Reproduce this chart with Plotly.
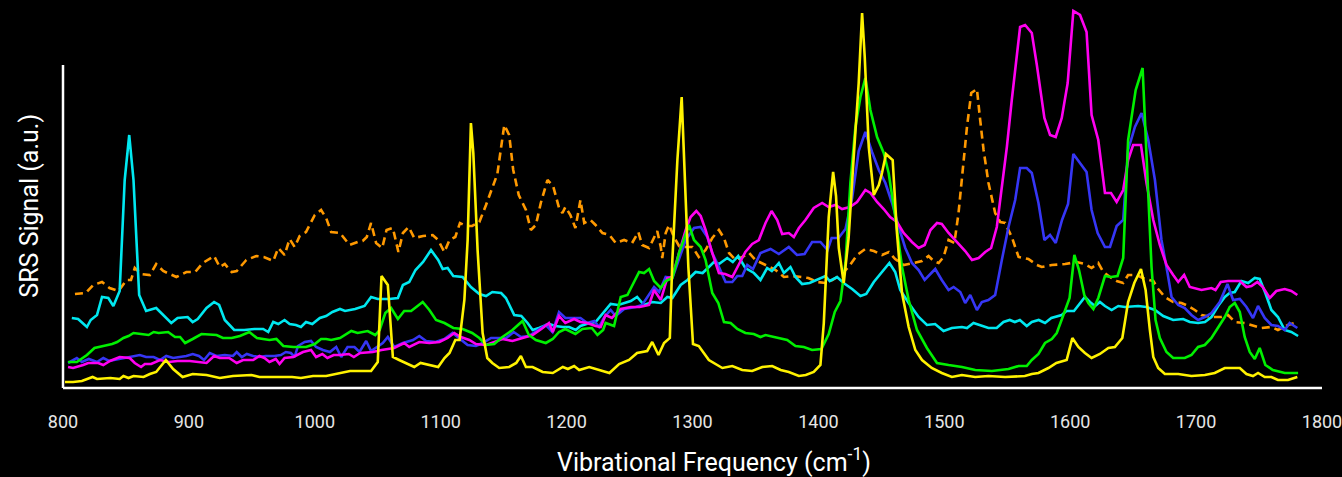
import plotly.graph_objects as go

# ---------------- data (wavenumber in cm^-1, SRS signal in a.u.) ----------------
orange_x = [809.5, 818, 824, 831, 837, 844, 850.5, 854, 857, 862, 869, 874, 879.6, 890, 898, 905, 911, 920, 924.5, 928.5,
            934, 938, 945.6, 953.6, 959.5, 967, 971, 976, 980, 984, 988, 993, 1000, 1005, 1009, 1013, 1020, 1027.6, 1034, 1038,
            1041.3, 1044.7, 1048.7, 1053.5, 1057, 1062, 1066.4, 1070, 1074.6, 1079, 1086, 1093.6, 1098, 1102.9, 1107, 1111.6,
            1115.3, 1120, 1125, 1130.7, 1136, 1141, 1145, 1150.5, 1154.4, 1157.6, 1162, 1167.7, 1171.6, 1175.6, 1179.5, 1184.8,
            1189.3, 1194, 1196.7, 1199, 1203, 1207, 1211, 1214, 1219, 1223, 1228.5, 1234, 1239, 1245.7, 1252, 1257, 1260, 1265.5,
            1269.5, 1272, 1274.8, 1276, 1278.7, 1281.4, 1285.3, 1289.3, 1294.6, 1300, 1305, 1310.4, 1315.7, 1321, 1325, 1329,
            1334.2, 1339.5, 1345, 1350, 1358, 1366, 1372.6, 1379, 1387, 1392, 1399, 1405.6, 1411, 1417.5, 1424, 1430.7, 1437.3,
            1444, 1450.5, 1456, 1461, 1467.7, 1475.6, 1482.3, 1487.5, 1491.5, 1495.5, 1499.4, 1503.4, 1508, 1511.3, 1515.3,
            1518, 1521.4, 1525.9, 1528.5, 1531.2, 1535.1, 1540.4, 1544.4, 1548.3, 1553.6, 1559, 1566.8, 1573.5, 1577.4, 1585.4,
            1596, 1605, 1611.7, 1617, 1622.3, 1626.3, 1631.6, 1636.9, 1642.1, 1646, 1652.7, 1659.3, 1666, 1669.9, 1675.2,
            1681.8, 1688.4, 1693.7, 1699, 1704.3, 1712.2, 1720, 1725.4, 1730.7, 1738.6, 1746.6, 1751.8, 1759.8, 1765, 1773, 1781]
orange_y = [0.94, 0.95, 1.03, 1.06, 1.00, 0.97, 1.08, 1.08, 1.20, 1.14, 1.13, 1.24, 1.17, 1.11, 1.16, 1.16, 1.25, 1.32, 1.21, 1.24,
            1.16, 1.17, 1.28, 1.32, 1.31, 1.27, 1.40, 1.33, 1.49, 1.41, 1.52, 1.56, 1.73, 1.78, 1.70, 1.56, 1.55, 1.43, 1.46, 1.47,
            1.51, 1.65, 1.45, 1.40, 1.58, 1.60, 1.36, 1.55, 1.61, 1.50, 1.52, 1.53, 1.48, 1.36, 1.48, 1.51,
            1.65, 1.62, 1.62, 1.66, 1.83, 2.00, 2.14, 2.63, 2.53, 2.18, 1.93, 1.78, 1.58, 1.63, 1.85, 2.08,
            2.02, 1.80, 1.75, 1.81, 1.73, 1.60, 1.88, 1.65, 1.68, 1.63, 1.55, 1.53, 1.45, 1.48, 1.45, 1.56, 1.43, 1.40,
            1.51, 1.57, 1.41, 1.30, 1.55, 1.63, 1.51, 1.42, 1.41, 1.41, 1.31, 1.38, 1.50, 1.58, 1.50, 1.35,
            1.28, 1.31, 1.35, 1.28, 1.23, 1.18, 1.11, 1.12, 1.11, 1.10, 1.06, 1.05, 1.08, 1.13, 1.21, 1.33, 1.39,
            1.37, 1.33, 1.36, 1.29, 1.23, 1.25, 1.27, 1.32, 1.27, 1.25, 1.31, 1.48, 1.45, 1.75, 2.25,
            2.61, 2.95, 2.99, 2.68, 2.38, 2.05, 1.75, 1.66, 1.65, 1.51, 1.31, 1.29, 1.23, 1.21, 1.23,
            1.24, 1.26, 1.24, 1.20, 1.25, 1.16, 1.11, 1.07, 1.05, 1.13, 1.13, 1.09, 1.07, 0.99, 0.91,
            0.86, 0.85, 0.82, 0.78, 0.73, 0.71, 0.71, 0.73, 0.66, 0.65, 0.62, 0.60, 0.61, 0.58, 0.63, 0.66]

cyan_x = [807, 812, 819, 822, 827, 831, 836, 840, 845, 849, 852.6, 856, 860.5, 866, 874, 880, 886, 891, 899, 903, 907, 914, 920,
          924, 928.5, 936, 944, 952, 959, 963, 967, 971, 976, 980, 985, 989, 993, 998, 1004, 1009, 1014, 1020, 1024, 1032,
          1039.5, 1044.7, 1050, 1059, 1066, 1070, 1075, 1080, 1086, 1092.3, 1098, 1101.6, 1105.5, 1110, 1117.4, 1124, 1130.7,
          1136, 1141, 1148, 1151.8, 1158.4, 1164, 1169, 1173, 1178, 1186, 1191, 1197, 1202, 1207.3, 1211, 1218, 1223, 1228,
          1235, 1241, 1251, 1256, 1261.5, 1268, 1274.8, 1280, 1284, 1290.6, 1296, 1302.5, 1308, 1313, 1317, 1321, 1327.6,
          1332, 1336.3, 1342, 1348.8, 1354, 1359.3, 1363, 1368.6, 1372.6, 1377.8, 1381.8, 1387, 1393, 1399, 1405.6, 1409,
          1414.9, 1420, 1426.8, 1433.4, 1438, 1444, 1450.5, 1456.4, 1461, 1465, 1471.7, 1479.6, 1486.2, 1492.7, 1499.4,
          1506, 1514, 1518, 1523.2, 1530, 1535.1, 1541.6, 1547, 1552, 1556, 1560, 1565.5, 1569.5, 1575, 1580, 1585, 1593.3,
          1597, 1603, 1607.8, 1611.7, 1615.7, 1619.7, 1623.6, 1627.6, 1632.9, 1638.2, 1643.5, 1654, 1660.6, 1667.3, 1673.9,
          1681.8, 1689.7, 1695, 1701.6, 1707, 1712.2, 1717.5, 1722.8, 1726.7, 1730.7, 1736, 1741.3, 1746.6, 1750.5, 1755,
          1759.8, 1765, 1770.4, 1775.6, 1781]
cyan_y = [0.70, 0.69, 0.61, 0.68, 0.73, 0.91, 0.90, 0.82, 0.97, 2.08, 2.53, 2.08, 0.93, 0.77, 0.80, 0.72, 0.65, 0.70, 0.71, 0.66,
          0.69, 0.80, 0.86, 0.83, 0.68, 0.58, 0.58, 0.59, 0.59, 0.56, 0.66, 0.64, 0.68, 0.64, 0.63, 0.61, 0.66, 0.64, 0.70,
          0.72, 0.76, 0.79, 0.77, 0.79, 0.82, 0.91, 0.89, 0.89, 0.90, 1.03, 1.06, 1.18, 1.26, 1.38, 1.28, 1.19, 1.20, 1.12,
          1.11, 1.01, 0.94, 0.92, 0.96, 0.95, 0.90, 0.73, 0.72, 0.65, 0.58, 0.60, 0.64, 0.62, 0.61, 0.61, 0.58, 0.62, 0.65,
          0.66, 0.74, 0.84, 0.83, 0.87, 0.91, 0.83, 0.86, 0.85, 0.91, 0.90, 1.03, 1.08, 1.16, 1.15, 1.21, 1.26, 1.24, 1.30,
          1.26, 1.32, 1.20, 1.15, 1.08, 1.20, 1.17, 1.25, 1.15, 1.21, 1.11, 1.04, 1.05, 1.08, 1.12, 1.07, 1.11, 1.05, 0.99,
          0.92, 0.94, 1.06, 1.16, 1.25, 1.16, 0.98, 0.85, 0.71, 0.63, 0.64, 0.57, 0.60, 0.61, 0.60, 0.65, 0.62, 0.60, 0.60,
          0.66, 0.68, 0.66, 0.68, 0.62, 0.66, 0.68, 0.65, 0.70, 0.73, 0.77, 0.77, 0.85, 0.91, 0.86, 0.82, 0.86, 0.82, 0.78,
          0.82, 0.81, 0.82, 0.81, 0.78, 0.72, 0.68, 0.69, 0.66, 0.65, 0.66, 0.71, 0.82, 0.91, 0.95, 0.96, 1.07, 1.05, 1.10,
          1.09, 0.95, 0.78, 0.71, 0.58, 0.56, 0.52]

green_x = [804, 811, 819, 825, 832, 839, 843, 848, 852, 856, 862, 868, 872, 876, 883.5, 889, 893, 897, 903, 910, 922, 927, 934,
           940.5, 948, 954, 964, 969.5, 975, 983, 993, 1000, 1005, 1009, 1013, 1020, 1029, 1034, 1042, 1048, 1051.5, 1056,
           1060.6, 1066, 1071, 1076.5, 1085.7, 1091, 1096.3, 1103, 1110, 1117.4, 1125, 1130.7, 1136, 1142.5, 1149, 1157, 1165,
           1170, 1175.6, 1183.5, 1189, 1194, 1199, 1207, 1212.5, 1220, 1224.5, 1229, 1231, 1237.7, 1243, 1248.3, 1257.6,
           1261.5, 1265.5, 1269.5, 1274.8, 1278.7, 1284, 1289.3, 1297.2, 1301.2, 1306.5, 1310.4, 1315.7, 1320.5, 1325,
           1330.3, 1335.6, 1342, 1348.7, 1354, 1358, 1364.6, 1375.2, 1381.8, 1388.4, 1395, 1402.4, 1408.2, 1413, 1417.5,
           1421.5, 1425.4, 1429.4, 1433.4, 1437.3, 1441.3, 1446.6, 1451.9, 1455.8, 1461.1, 1466.4, 1471.7, 1478.3, 1486.2,
           1494.2, 1503.4, 1514, 1524.6, 1537.8, 1551, 1559, 1565.5, 1569.5, 1574.8, 1580, 1585.4, 1589.3, 1594.6, 1599.5,
           1603.3, 1607, 1611.2, 1614.4, 1618.4, 1622.3, 1627.6, 1632.4, 1637.6, 1642.1, 1646, 1652, 1657.5, 1660.6, 1664.6,
           1667.8, 1671.2, 1676.5, 1681.8, 1691, 1696.3, 1701.6, 1706.9, 1712.2, 1717.5, 1722.8, 1726.7, 1730.7, 1734.7,
           1738.6, 1742.6, 1746.6, 1750.5, 1755, 1761, 1770.4, 1781]
green_y = [0.26, 0.26, 0.33, 0.40, 0.42, 0.44, 0.46, 0.50, 0.52, 0.55, 0.54, 0.53, 0.56, 0.55, 0.56, 0.51, 0.51, 0.45, 0.49, 0.54,
           0.53, 0.50, 0.50, 0.52, 0.56, 0.50, 0.48, 0.49, 0.42, 0.41, 0.41, 0.44, 0.49, 0.49, 0.48, 0.50, 0.57, 0.55, 0.57,
           0.53, 0.58, 0.75, 0.80, 0.69, 0.77, 0.77, 0.86, 0.78, 0.68, 0.65, 0.60, 0.59, 0.55, 0.50, 0.43, 0.44, 0.51, 0.58,
           0.67, 0.53, 0.48, 0.45, 0.49, 0.56, 0.59, 0.54, 0.59, 0.60, 0.53, 0.58, 0.65, 0.62, 0.91, 0.93, 1.16, 1.15, 1.19,
           1.07, 1.00, 1.07, 1.10, 1.35, 1.63, 1.48, 1.41, 1.28, 0.95, 0.85, 0.66, 0.65, 0.59, 0.55, 0.54, 0.51, 0.53, 0.51,
           0.48, 0.42, 0.41, 0.38, 0.39, 0.54, 0.76, 0.87, 1.25, 2.05, 2.61, 2.91, 3.10, 2.78, 2.51, 2.35, 2.15, 1.71, 1.21,
           0.88, 0.58, 0.40, 0.25, 0.23, 0.21, 0.18, 0.17, 0.19, 0.22, 0.22, 0.28, 0.34, 0.45, 0.49, 0.55, 0.73, 0.90, 1.33,
           1.18, 0.93, 0.85, 0.79, 0.90, 1.12, 1.11, 1.12, 1.30, 2.48, 2.98, 3.20, 2.38, 1.21, 0.68, 0.50, 0.36, 0.30, 0.30,
           0.33, 0.41, 0.43, 0.50, 0.60, 0.71, 0.81, 0.85, 0.76, 0.51, 0.36, 0.29, 0.40, 0.23, 0.18, 0.15, 0.15]

blue_x = [804, 811, 815, 820.5, 827, 832, 836.6, 844, 850.5, 861, 866, 872, 877, 882, 887.5, 893, 898, 903, 908, 912, 916.6,
          922, 928.5, 935, 938, 942, 946, 951, 956, 961, 968, 973, 977, 981, 984, 986.6, 992, 997, 1001, 1006.5, 1012, 1017,
          1021, 1026, 1031.5, 1035.5, 1040.8, 1044.7, 1050, 1054, 1058, 1063, 1070, 1078, 1083, 1088.4, 1096, 1102.9, 1109.5,
          1115, 1121.4, 1128, 1133.3, 1140, 1146.5, 1152, 1158, 1163.7, 1170, 1178, 1183.5, 1188.8, 1194, 1199, 1204.5, 1211,
          1216.4, 1222, 1225.8, 1230, 1235, 1239, 1245.7, 1255, 1260, 1265.5, 1269.5, 1273.5, 1278.7, 1284, 1289.3, 1294.6,
          1301.2, 1306.5, 1311.8, 1315.7, 1321, 1326.3, 1331.6, 1335.6, 1339.5, 1343.5, 1348, 1354, 1362, 1368.6, 1376.5,
          1383, 1389, 1395, 1401.6, 1407.3, 1410.5, 1416, 1421.5, 1426.8, 1432, 1437.3, 1442.6, 1448, 1453.2, 1458.5,
          1463.8, 1469, 1474.3, 1479.6, 1484.4, 1489, 1492.8, 1498, 1503.4, 1507.4, 1512.7, 1516.6, 1520.6, 1525.9, 1529.8,
          1535, 1540.4, 1545.7, 1551, 1556.3, 1560.2, 1565.5, 1569.5, 1574.8, 1579.5, 1584, 1588.5, 1593.5, 1598.3, 1602.5,
          1607.8, 1613, 1617, 1621.8, 1627.6, 1631.6, 1636.9, 1642.1, 1646, 1651.4, 1656.7, 1662, 1667.3, 1672.5, 1677.3,
          1680.5, 1685.8, 1691, 1696.3, 1701.6, 1706.9, 1712.2, 1718.8, 1724.9, 1729.4, 1734.7, 1740, 1745.2, 1749.2,
          1754.5, 1759.8, 1765, 1770.4, 1774.3, 1780.4]
blue_y = [0.25, 0.30, 0.26, 0.29, 0.26, 0.30, 0.27, 0.29, 0.30, 0.33, 0.31, 0.31, 0.28, 0.32, 0.30, 0.31, 0.32, 0.34, 0.32, 0.28,
          0.35, 0.32, 0.33, 0.32, 0.36, 0.31, 0.34, 0.32, 0.31, 0.32, 0.32, 0.33, 0.36, 0.35, 0.31, 0.42, 0.46, 0.47, 0.41,
          0.38, 0.36, 0.41, 0.31, 0.41, 0.41, 0.36, 0.47, 0.37, 0.42, 0.45, 0.51, 0.41, 0.45, 0.48, 0.52, 0.47, 0.46, 0.49,
          0.55, 0.49, 0.43, 0.42, 0.45, 0.50, 0.50, 0.50, 0.56, 0.51, 0.52, 0.58, 0.63, 0.56, 0.76, 0.70, 0.70, 0.70, 0.65,
          0.67, 0.61, 0.71, 0.78, 0.72, 0.79, 0.81, 0.83, 0.93, 1.01, 0.96, 1.11, 1.10, 1.28, 1.48, 1.60, 1.61, 1.51, 1.35,
          1.21, 1.06, 1.06, 1.12, 1.12, 1.23, 1.19, 1.35, 1.39, 1.34, 1.41, 1.33, 1.34, 1.46, 1.46, 1.38, 1.50, 1.50, 1.59,
          1.90, 2.37, 2.56, 2.36, 2.18, 2.05, 1.85, 1.61, 1.40, 1.25, 1.18, 1.08, 1.14, 1.19, 1.08, 0.98, 1.01, 0.96, 0.85,
          0.93, 0.78, 0.86, 0.88, 0.93, 1.28, 1.61, 1.88, 2.20, 2.20, 2.15, 1.85, 1.48, 1.53, 1.45, 1.68, 1.84, 2.34, 2.25,
          2.16, 1.78, 1.55, 1.41, 1.41, 1.62, 1.68, 2.38, 2.61, 2.75, 2.48, 2.08, 1.48, 1.15, 0.91, 0.83, 0.80, 0.73, 0.68,
          0.71, 0.75, 0.86, 1.04, 0.88, 0.89, 0.81, 0.70, 0.82, 0.70, 0.63, 0.62, 0.58, 0.65, 0.60]

magenta_x = [804, 808, 816, 820, 828, 832, 837.3, 845, 853, 857, 862, 865, 870, 877, 884, 891, 900.7, 909, 914, 920, 924.5, 932,
             938, 943, 951, 956, 960, 964, 969, 972, 976, 983, 990.6, 997, 1001, 1006, 1010, 1015, 1020, 1027, 1031, 1036,
             1046, 1053, 1063, 1071, 1075, 1083, 1091, 1099, 1105.5, 1110.8, 1116, 1122.7, 1128, 1136, 1144, 1149, 1157, 1165,
             1173, 1181, 1186, 1189, 1194, 1199, 1206, 1211, 1216.5, 1223, 1227, 1231, 1236, 1243, 1251, 1258, 1265.5, 1269.5,
             1274.8, 1280, 1284, 1289.3, 1294.6, 1298.5, 1303, 1306.5, 1310.4, 1315.7, 1321, 1326, 1331.6, 1337, 1342, 1347.4,
             1352.7, 1358, 1362.8, 1367.3, 1371.2, 1376.5, 1380.5, 1384.5, 1389.7, 1396.3, 1403, 1408.2, 1413.5, 1418.8, 1425,
             1430.7, 1437.3, 1441.3, 1446.6, 1451.9, 1457, 1462.4, 1467.7, 1474.3, 1479.6, 1484.4, 1489, 1494.2, 1498, 1503.4,
             1510, 1516.6, 1522, 1527.3, 1532.5, 1537.2, 1541.7, 1545.7, 1549.7, 1553.6, 1557.6, 1560.2, 1564.2, 1569.5, 1573.5,
             1576, 1579.5, 1584, 1588.5, 1593.3, 1598, 1602.5, 1607.8, 1613, 1617, 1622.3, 1627.6, 1632.4, 1636.9, 1642.1,
             1646, 1650, 1656.2, 1660.6, 1666, 1671.2, 1676.5, 1681.8, 1685.8, 1690.5, 1695, 1704.3, 1712.2, 1715.4, 1719.6,
             1725.4, 1734.7, 1740, 1744, 1748.7, 1753, 1758.5, 1763.7, 1770.4, 1775.6, 1780.4]
magenta_y = [0.21, 0.20, 0.23, 0.25, 0.25, 0.23, 0.27, 0.31, 0.30, 0.25, 0.21, 0.24, 0.24, 0.28, 0.26, 0.27, 0.27, 0.26, 0.25,
             0.32, 0.30, 0.30, 0.25, 0.28, 0.28, 0.32, 0.30, 0.26, 0.29, 0.24, 0.30, 0.31, 0.36, 0.38, 0.31, 0.34, 0.30, 0.33,
             0.33, 0.34, 0.31, 0.35, 0.36, 0.38, 0.40, 0.45, 0.41, 0.46, 0.45, 0.46, 0.50, 0.55, 0.51, 0.48, 0.44, 0.43, 0.47,
             0.49, 0.47, 0.50, 0.53, 0.60, 0.65, 0.56, 0.72, 0.65, 0.69, 0.66, 0.65, 0.62, 0.61, 0.73, 0.70, 0.79, 0.81, 0.81,
             0.83, 0.98, 0.88, 1.10, 1.11, 1.35, 1.58, 1.71, 1.77, 1.72, 1.58, 1.35, 1.15, 1.14, 1.11, 1.24, 1.36, 1.44, 1.48,
             1.65, 1.77, 1.68, 1.54, 1.55, 1.51, 1.60, 1.68, 1.80, 1.85, 1.81, 1.83, 1.79, 1.81, 1.86, 1.98, 1.95, 1.86, 1.79,
             1.71, 1.66, 1.55, 1.46, 1.40, 1.43, 1.58, 1.65, 1.64, 1.55, 1.46, 1.37, 1.28, 1.30, 1.36, 1.40, 1.61, 2.01, 2.41,
             2.88, 3.31, 3.61, 3.63, 3.55, 3.23, 3.01, 2.70, 2.53, 2.51, 2.70, 3.05, 3.77, 3.73, 3.56, 2.73, 2.48, 1.95, 1.95,
             1.86, 1.98, 2.28, 2.43, 2.43, 2.05, 1.68, 1.43, 1.23, 1.13, 1.06, 1.13, 1.01, 0.98, 1.00, 0.98, 1.06, 1.07, 1.07,
             1.01, 1.02, 1.06, 1.01, 0.90, 0.97, 0.99, 0.97, 0.93]

yellow_x = [801.6, 808, 815, 823.5, 827, 837.6, 845, 848, 852, 856, 864, 869, 874, 881.7, 887.5, 895, 903, 914, 924.5, 935,
            949.6, 956, 969, 982, 989, 998.6, 1009, 1020, 1028, 1036, 1044.7, 1050, 1053, 1058, 1062, 1067, 1074, 1079, 1084,
            1092, 1098, 1103, 1107, 1111.6, 1115, 1118.8, 1121.4, 1124, 1125.9, 1129.3, 1133.3, 1137, 1141, 1146.5, 1154.4,
            1160, 1163.7, 1167.7, 1173, 1181, 1189, 1197, 1201, 1206, 1210, 1218, 1226, 1234, 1241.7, 1249.6, 1256, 1264, 1268,
            1273, 1277.4, 1282, 1284, 1288, 1291.4, 1294, 1296.7, 1300.4, 1305, 1313, 1323.7, 1331.6, 1339.5, 1347.4, 1355.4,
            1363.3, 1370, 1376.5, 1384.5, 1390, 1396.3, 1401.6, 1404.3, 1408.2, 1411.7, 1414, 1416.2, 1420.1, 1424, 1428, 1432,
            1434.7, 1436.8, 1440, 1444, 1448, 1450.5, 1453.7, 1459, 1462.4, 1466.4, 1471.7, 1477, 1482.3, 1490, 1498, 1506,
            1514, 1524.5, 1535, 1548.3, 1564, 1569.5, 1574.8, 1582.7, 1589, 1597.2, 1601.7, 1606.5, 1611.7, 1617, 1623.6,
            1630.3, 1635.5, 1641.4, 1646, 1650.9, 1656.2, 1659.9, 1663.3, 1666, 1669.9, 1675.2, 1685.8, 1696.3, 1707, 1714.8,
            1722.8, 1728, 1734.7, 1740, 1745.2, 1749.2, 1754.5, 1759.8, 1765, 1773, 1780.4]
yellow_y = [0.06, 0.06, 0.07, 0.11, 0.09, 0.10, 0.09, 0.12, 0.10, 0.12, 0.11, 0.14, 0.16, 0.28, 0.19, 0.11, 0.14, 0.13, 0.10, 0.12,
            0.13, 0.11, 0.11, 0.11, 0.10, 0.12, 0.12, 0.15, 0.17, 0.17, 0.17, 0.26, 1.12, 1.03, 0.31, 0.28, 0.24, 0.21, 0.25,
            0.23, 0.21, 0.30, 0.35, 0.48, 0.48, 0.88, 1.48, 2.65, 2.35, 1.38, 0.55, 0.30, 0.25, 0.20, 0.21,
            0.25, 0.32, 0.21, 0.21, 0.16, 0.15, 0.21, 0.19, 0.22, 0.18, 0.21, 0.18, 0.15, 0.24, 0.28, 0.35, 0.37, 0.46,
            0.33, 0.45, 0.50, 1.28, 2.28, 2.91, 2.11, 1.21, 0.44, 0.42, 0.28, 0.20, 0.22, 0.18, 0.17, 0.21,
            0.22, 0.18, 0.16, 0.12, 0.13, 0.16, 0.23, 0.65, 1.71, 2.16, 1.92, 1.40, 1.05, 1.50, 2.30, 3.05,
            3.75, 3.31, 2.41, 1.93, 2.03, 2.15, 2.34, 2.28, 1.55, 0.95, 0.61, 0.38, 0.28, 0.20, 0.15, 0.11,
            0.13, 0.11, 0.12, 0.11, 0.12, 0.14, 0.15, 0.20, 0.25, 0.28, 0.50, 0.41, 0.35, 0.30, 0.34,
            0.40, 0.41, 0.50, 0.86, 1.05, 1.19, 0.98, 0.58, 0.31, 0.20, 0.14, 0.14, 0.12, 0.13, 0.15,
            0.20, 0.20, 0.20, 0.14, 0.12, 0.15, 0.11, 0.11, 0.08, 0.08, 0.11]

x_ticks = [800, 900, 1000, 1100, 1200, 1300, 1400, 1500, 1600, 1700, 1800]

# ---------------- figure ----------------
FONT = "Roboto, Liberation Sans, sans-serif"

series = [
    (orange_x, orange_y, "#FF9900", "8px,5px"),
    (cyan_x, cyan_y, "#00E8F0", "solid"),
    (blue_x, blue_y, "#3636F5", "solid"),
    (magenta_x, magenta_y, "#FF00F0", "solid"),
    (green_x, green_y, "#00F000", "solid"),
    (yellow_x, yellow_y, "#FFF200", "solid"),
]

fig = go.Figure()
for xs, ys, col, dash in series:
    fig.add_trace(go.Scatter(x=xs, y=ys, mode="lines",
                             line=dict(color=col, width=2.6, dash=dash),
                             hoverinfo="skip", showlegend=False))

fig.update_layout(
    width=1342, height=477,
    margin=dict(l=63, r=18, t=0, b=89),
    paper_bgcolor="black", plot_bgcolor="black",
    font=dict(family=FONT, color="white"),
    xaxis=dict(range=[800, 1800], tickvals=x_ticks, ticktext=[str(v) for v in x_ticks],
               showgrid=False, zeroline=False, showline=False, ticks="",
               ticklabelstandoff=21, ticklabeloverflow="allow",
               tickfont=dict(family=FONT, size=18, color="#E6E6E6")),
    yaxis=dict(range=[0, 3.88], showgrid=False, zeroline=False, showline=False,
               showticklabels=False, ticks=""),
    shapes=[
        dict(type="line", xref="paper", yref="paper", x0=0, x1=0, y0=0, y1=3.23 / 3.88,
             line=dict(color="white", width=2.5)),
        dict(type="line", xref="paper", yref="paper", x0=0, x1=1, y0=0, y1=0,
             line=dict(color="white", width=2.5)),
    ],
    annotations=[
        dict(text="Vibrational Frequency (cm<sup>-1</sup>)", xref="paper", yref="paper",
             x=0.517, y=-0.1856, xanchor="center", yanchor="middle", showarrow=False,
             font=dict(family=FONT, size=25, color="white")),
        dict(text="SRS Signal (a.u.)", xref="paper", yref="paper",
             x=-0.0262, y=0.47, xanchor="center", yanchor="middle", textangle=-90,
             showarrow=False, font=dict(family=FONT, size=25, color="white")),
    ],
)

fig.write_html("out.html", config={"displayModeBar": False},
               post_script="document.body.style.margin='0';document.body.style.background='black';")
